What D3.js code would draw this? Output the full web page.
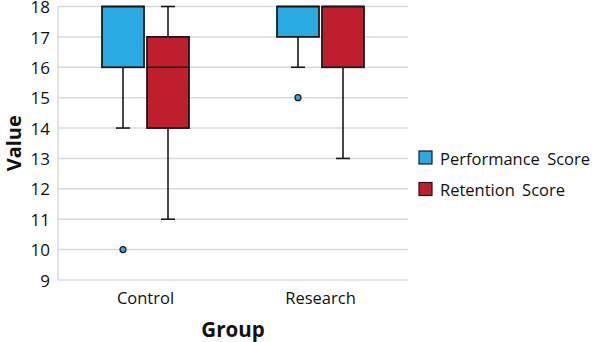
<!DOCTYPE html>
<html><head><meta charset="utf-8">
<script src="https://cdn.jsdelivr.net/npm/d3@7"></script>
<style>body{margin:0;background:#fff;} text{font-family:"Open Sans","Noto Sans",sans-serif;fill:#111;}</style>
</head><body><svg id="c" width="598" height="342"></svg>
<script>
const groups = ["Control", "Research"];
const series = ["Performance Score", "Retention Score"];
const colors = ["#29abe2", "#be1e2d"];
const yTicks = [9, 10, 11, 12, 13, 14, 15, 16, 17, 18];
// five-number summaries per group
const perfMin = [14, 16], perfQ1 = [16, 17], perfMed = [18, 18], perfQ3 = [18, 18], perfMax = [18, 18];
const perfOutliers = [[10], [15]];
const retMin = [11, 13], retQ1 = [14, 16], retMed = [16, 18], retQ3 = [17, 18], retMax = [18, 18];
const retOutliers = [[], []];

const stats = [
  {min: perfMin, q1: perfQ1, med: perfMed, q3: perfQ3, max: perfMax, out: perfOutliers},
  {min: retMin, q1: retQ1, med: retMed, q3: retQ3, max: retMax, out: retOutliers}
];

const svg = d3.select("#c");
const L = 58, R = 408, T = 6.5, B = 280;
const x = d3.scaleBand().domain(groups).range([L, R]);
const xs = d3.scaleBand().domain(series).range([-45, 45]);
const y = d3.scaleLinear().domain([9, 18]).range([B, T]);
const bw = 42, cap = 14;

// grid
svg.append("g").selectAll("line").data(yTicks).join("line")
  .attr("x1", L).attr("x2", R).attr("y1", d => y(d)).attr("y2", d => y(d))
  .attr("stroke", "#d9d9d9").attr("stroke-width", 1.5);
svg.append("line").attr("x1", L).attr("x2", L).attr("y1", T).attr("y2", B)
  .attr("stroke", "#d9d9d9").attr("stroke-width", 1.5);

// y labels
const ya = svg.append("g").attr("transform", `translate(${L},0)`)
  .call(d3.axisLeft(y).tickValues(yTicks).tickSize(0).tickPadding(8));
ya.select(".domain").remove();
ya.selectAll("text").attr("font-size", 17).attr("font-family", "'Open Sans','Noto Sans',sans-serif").attr("fill", "#111").attr("dy", "0.36em");

// x labels
const xa = svg.append("g").attr("transform", `translate(0,${B})`)
  .call(d3.axisBottom(x).tickSize(0).tickPadding(10));
xa.select(".domain").remove();
xa.selectAll("text").attr("font-size", 16.5).attr("font-family", "'Open Sans','Noto Sans',sans-serif").attr("fill", "#111").attr("dy", "0.85em");

// boxes
series.forEach((s, si) => {
  const st = stats[si];
  groups.forEach((g, gi) => {
    const cx = x(g) + x.bandwidth() / 2 + xs(s) + xs.bandwidth() / 2;
    const gg = svg.append("g");
    const line = (x1, y1, x2, y2) => gg.append("line").attr("x1", x1).attr("x2", x2).attr("y1", y1).attr("y2", y2)
      .attr("stroke", "#1a1a1a").attr("stroke-width", 1.6);
    if (st.min[gi] < st.q1[gi]) {
      line(cx, y(st.q1[gi]), cx, y(st.min[gi]));
      line(cx - cap / 2, y(st.min[gi]), cx + cap / 2, y(st.min[gi]));
    }
    if (st.max[gi] > st.q3[gi]) {
      line(cx, y(st.q3[gi]), cx, y(st.max[gi]));
      line(cx - cap / 2, y(st.max[gi]), cx + cap / 2, y(st.max[gi]));
    }
    gg.append("rect").attr("x", cx - bw / 2).attr("width", bw)
      .attr("y", y(st.q3[gi])).attr("height", y(st.q1[gi]) - y(st.q3[gi]))
      .attr("fill", colors[si]).attr("stroke", "#1a1a1a").attr("stroke-width", 1.8);
    line(cx - bw / 2, y(st.med[gi]), cx + bw / 2, y(st.med[gi]));
    st.out[gi].forEach(v => {
      gg.append("circle").attr("cx", cx).attr("cy", y(v)).attr("r", 3)
        .attr("fill", colors[si]).attr("stroke", "#1a1a1a").attr("stroke-width", 1.2);
    });
  });
});

// axis titles
svg.append("text").attr("x", (L + R) / 2).attr("y", 337).attr("text-anchor", "middle")
  .attr("font-size", 20.5).attr("font-weight", "bold").text("Group");
svg.append("text").attr("transform", `translate(21,${(T + B) / 2}) rotate(-90)`).attr("text-anchor", "middle")
  .attr("font-size", 20).attr("font-weight", "bold").text("Value");

// legend
const lg = svg.append("g").selectAll("g").data(series).join("g")
  .attr("transform", (d, i) => `translate(419,${151 + i * 31.5})`);
lg.append("rect").attr("width", 13).attr("height", 13).attr("fill", (d, i) => colors[i])
  .attr("stroke", "#1a1a1a").attr("stroke-width", 1.2);
lg.append("text").attr("x", 21).attr("y", 13.5).attr("font-size", 16.5).attr("word-spacing", 3).text(d => d);
</script></body></html>
